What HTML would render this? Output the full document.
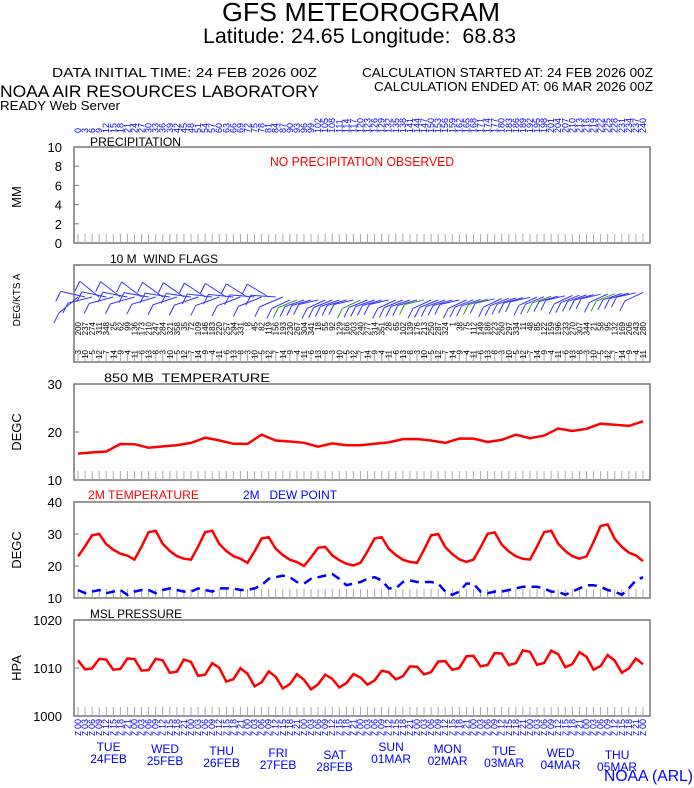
<!DOCTYPE html>
<html><head><meta charset="utf-8"><style>
html,body{margin:0;padding:0;background:#fff;width:694px;height:788px;overflow:hidden}
svg{display:block;font-family:"Liberation Sans",sans-serif}
</style></head><body>
<svg id="s" width="694" height="788" viewBox="0 0 694 788" xmlns="http://www.w3.org/2000/svg">
<text x="222" y="21" font-size="26" textLength="278" lengthAdjust="spacingAndGlyphs">GFS METEOROGRAM</text>
<text x="203" y="43" font-size="21" textLength="313" lengthAdjust="spacingAndGlyphs" xml:space="preserve">Latitude: 24.65 Longitude:  68.83</text>
<text x="52" y="77" font-size="13" textLength="265" lengthAdjust="spacingAndGlyphs">DATA INITIAL TIME: 24 FEB 2026 00Z</text>
<text x="362" y="77" font-size="13" textLength="291" lengthAdjust="spacingAndGlyphs">CALCULATION STARTED AT: 24 FEB 2026 00Z</text>
<text x="374" y="91" font-size="13" textLength="279" lengthAdjust="spacingAndGlyphs">CALCULATION ENDED AT: 06 MAR 2026 00Z</text>
<text x="0" y="97" font-size="17" textLength="319" lengthAdjust="spacingAndGlyphs">NOAA AIR RESOURCES LABORATORY</text>
<text x="0" y="110" font-size="13" textLength="120" lengthAdjust="spacingAndGlyphs">READY Web Server</text>
<text x="90" y="146" font-size="12" textLength="91" lengthAdjust="spacingAndGlyphs">PRECIPITATION</text>
<text x="270" y="166" font-size="13" fill="#f00" textLength="184" lengthAdjust="spacingAndGlyphs">NO PRECIPITATION OBSERVED</text>
<text x="110" y="263" font-size="12" textLength="108" lengthAdjust="spacingAndGlyphs" xml:space="preserve">10 M  WIND FLAGS</text>
<text x="104" y="382" font-size="12" textLength="166" lengthAdjust="spacingAndGlyphs" xml:space="preserve">850 MB  TEMPERATURE</text>
<text x="88" y="499" font-size="12" fill="#f00" textLength="111" lengthAdjust="spacingAndGlyphs">2M TEMPERATURE</text>
<text x="243" y="499" font-size="12" fill="#00f" textLength="94" lengthAdjust="spacingAndGlyphs" xml:space="preserve">2M   DEW POINT</text>
<text x="90" y="618" font-size="12" textLength="92" lengthAdjust="spacingAndGlyphs">MSL PRESSURE</text>
<text x="604" y="781" font-size="16" fill="#00f" textLength="89" lengthAdjust="spacingAndGlyphs">NOAA (ARL)</text>
<g id="g"></g>
</svg>
<script>
var g=document.getElementById('g');var h='';
function X(t){return 78+t*2.354;}
var L=74,R=650;
function frame(y0,y1){h+='<rect x="'+L+'" y="'+y0+'" width="'+(R-L)+'" height="'+(y1-y0)+'" fill="none" stroke="#777" stroke-width="1.5"/>';
 for(var i=0;i<=80;i++){var x=X(i*3);h+='<line x1="'+x+'" y1="'+(y1-9)+'" x2="'+x+'" y2="'+y1+'" stroke="#aaa" stroke-width="1"/>';}}
function ylab(y,t){h+='<text x="'+(L-12)+'" y="'+(y+5)+'" font-size="13" text-anchor="end">'+t+'</text><line x1="'+L+'" y1="'+y+'" x2="'+(L+5)+'" y2="'+y+'" stroke="#777"/>';}
function vlab(x,y,t,fs){h+='<text transform="translate('+x+','+y+') rotate(-90)" font-size="'+(fs||13)+'" text-anchor="middle">'+t+'</text>';}
frame(147,243);[10,8,6,4,2,0].forEach(function(v,i){ylab(147+i*19.2,v);});vlab(21,197,'MM');
frame(265,362);vlab(20,300,'DEG/KTS  A',10);
frame(384,480);ylab(384,30);ylab(432,20);ylab(480,10);vlab(21,432,'DEGC');
frame(502,598);ylab(502,40);ylab(534,30);ylab(566,20);ylab(598,10);vlab(21,550,'DEGC');
frame(620,716);ylab(620,1020);ylab(668,1010);ylab(716,1000);vlab(21,668,'HPA');
for(var i=0;i<=80;i++){var x=X(i*3)+3,t=i*3;h+='<text transform="translate('+x+',133) rotate(-90)" font-size="9" fill="#00f">'+t+'</text>';}
var hh=['00','03','06','09','12','15','18','21'];
for(var i=0;i<=80;i++){var x=X(i*3)+3;h+='<text transform="translate('+x+',719) rotate(-90)" font-size="9" fill="#00f" text-anchor="end">'+hh[i%8]+'</text><text transform="translate('+x+',731) rotate(-90)" font-size="8" fill="#00f" text-anchor="end">Z</text>';}
var days=[['TUE','24FEB'],['WED','25FEB'],['THU','26FEB'],['FRI','27FEB'],['SAT','28FEB'],['SUN','01MAR'],['MON','02MAR'],['TUE','03MAR'],['WED','04MAR'],['THU','05MAR']];
days.forEach(function(d,i){var x=X(i*24+13),yo=(i%5)*2;h+='<text x="'+x+'" y="'+(751+yo)+'" font-size="12" fill="#00f" text-anchor="middle">'+d[0]+'</text><text x="'+x+'" y="'+(763+yo)+'" font-size="12" fill="#00f" text-anchor="middle">'+d[1]+'</text>';});
for(var i=0;i<=80;i++){var x=X(i*3)+3;var d=(200+i*37)%360,s=(i*7)%12+3;
 h+='<text transform="translate('+x+',322) rotate(-90)" font-size="8" text-anchor="end">'+d+'</text>';
 h+='<text transform="translate('+x+',350) rotate(-90)" font-size="8" text-anchor="end">'+s+'</text>';}
for(var i=0;i<=80;i++){var x=X(i*3);var a=(i<30?(i*53)%80-40:(-25+(i%5)*3))*Math.PI/180;var len=i<30?25:20;var cy=i<30?297:300-(i>55?(i-55)*0.3:0);
 var col=(i%9==4&&i>25)?'#393':'#33f';
 var x2=x-Math.cos(a)*len,y2=cy-Math.sin(a)*len;
 h+='<line x1="'+x+'" y1="'+cy+'" x2="'+x2+'" y2="'+y2+'" stroke="'+col+'" stroke-width="1"/>';
 h+='<line x1="'+x2+'" y1="'+y2+'" x2="'+(x2-5)+'" y2="'+(y2+10)+'" stroke="'+col+'" stroke-width="1"/>';}
var t850=[15.5,15.5,16.2,17.5,17.2,17,17,17,18,18.8,18,17.8,17.5,19.2,18.5,18,17.5,17.2,17.6,17,17.5,17.5,17.6,18.8,18.5,18,18,18.6,18.4,18.2,18.3,19.2,19,19.2,20.5,20.5,20.6,21.5,21.8,21.2,22];
var p='';for(var i=0;i<41;i++){var t=i*6,v=t850[i]+0.3*Math.sin(i*2.1);p+=(i?'L':'M')+(X(t)).toFixed(1)+','+(480-(v-10)*4.8).toFixed(1);}
h+='<path d="'+p+'" fill="none" stroke="#f00" stroke-width="2.5"/>';
var pk=[30,31,31,29,26,29,30,30.5,31,33,33],lo=[23,22,22,21,20,21,21,22,22,23,22];
var sh=[0,0.45,0.95,1,0.55,0.3,0.12,0.03];
p='';for(var i=0;i<=80;i++){var d=Math.floor(i/8),k=i%8;if(d>9)d=9;var v=lo[d]+(pk[d]-lo[d])*sh[k];if(i==80)v=21.5;p+=(i?'L':'M')+X(i*3).toFixed(1)+','+(598-(v-10)*3.2).toFixed(1);}
h+='<path d="'+p+'" fill="none" stroke="#f00" stroke-width="2.5"/>';
var dp=[12.5,11.5,12,12.5,11.5,12,12.5,11,12,12.5,12.5,11.5,12.5,13,12.5,12,12,13,12.5,12,13,13,13,12.5,12.5,13,14,16,16.5,17,16.5,15,14.5,16,16.5,17,17.5,16,14,14.5,15,16,16.5,15.5,13,13,15,15.5,15,15,15,14.5,12,11,12,14.5,14.5,12,11.5,12,12,12.5,13,13.5,13.5,13.5,13,12,12,11,12,13,14,14,13.5,12.5,12,11,13,15.5,16.5];
p='';for(var i=0;i<=80;i++){p+=(i?'L':'M')+X(i*3).toFixed(1)+','+(598-(dp[i]-10)*3.2).toFixed(1);}
h+='<path d="'+p+'" fill="none" stroke="#00f" stroke-width="2.5" stroke-dasharray="9,6"/>';
var base=[1010.8,1010.8,1010.2,1008,1007,1007.5,1009.5,1011.5,1012.3,1011.5,1010.2,1010];
p='';for(var i=0;i<=80;i++){var t=i*3,d=t/24,b=base[Math.floor(d)]+(base[Math.floor(d)+1]-base[Math.floor(d)])*(d%1);var v=b+1.6*Math.cos((t-10)/12*2*Math.PI)+0.3*Math.sin(i*1.7);p+=(i?'L':'M')+X(t).toFixed(1)+','+(716-(v-1000)*4.8).toFixed(1);}
h+='<path d="'+p+'" fill="none" stroke="#f00" stroke-width="2.5"/>';
g.innerHTML=h;
</script>
</body></html>
